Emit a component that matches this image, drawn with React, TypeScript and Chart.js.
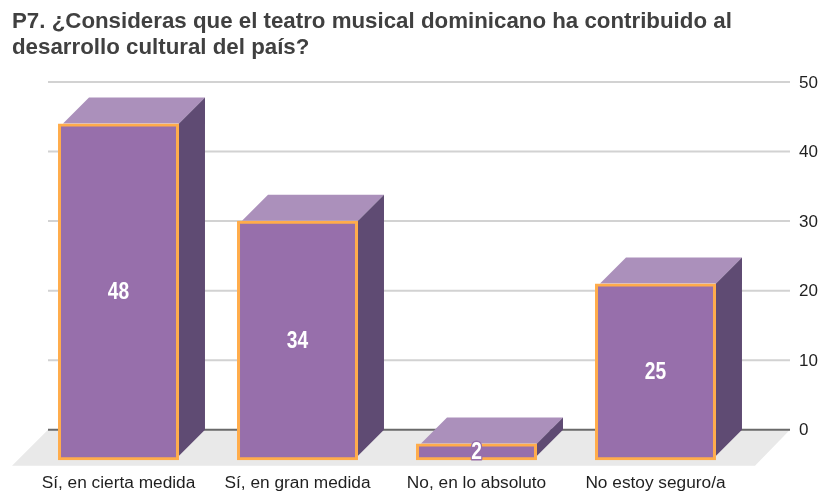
import React, { useEffect, useRef } from "react";
import { Chart, registerables } from "chart.js";

Chart.register(...registerables);

const categories = ["Sí, en cierta medida", "Sí, en gran medida", "No, en lo absoluto", "No estoy seguro/a"];
const values = [48, 34, 2, 25];
const titleLines = [
  "P7. ¿Consideras que el teatro musical dominicano ha contribuido al",
  "desarrollo cultural del país?",
];

const FRONT = "#976FAB";
const BORDER = "#FFAC4B";
const TOP = "#AB90BB";
const SIDE = "#5F4B73";
const FLOOR = "#E9E9E9";
const GRID = "#D2D2D2";
const ZERO = "#6A6A6A";
const TEXT = "#1F1F1F";
const TITLE = "#404040";

// projection of the pseudo-3D box
const DROP = 29;
const DEPTH = 26;
const INFLATE = 1.5;
const GRID_LEFT = 48;
const GRID_RIGHT = 790;
const FLOOR_DEPTH = 36;

const poly = (ctx: CanvasRenderingContext2D, pts: number[][], fill: string) => {
  ctx.beginPath();
  pts.forEach(([x, y], i) => (i ? ctx.lineTo(x, y) : ctx.moveTo(x, y)));
  ctx.closePath();
  ctx.fillStyle = fill;
  ctx.fill();
};

const box3d = {
  id: "box3d",
  afterLayout(chart: any) {
    chart.titleBlock.left = 12;
  },
  beforeDatasetsDraw(chart: any) {
    const { ctx, scales } = chart;
    const yS = scales.y;
    const base = yS.getPixelForValue(0);
    const { left, right } = chart.chartArea;
    ctx.save();
    yS.ticks.forEach((_t: any, i: number) => {
      const py = yS.getPixelForTick(i);
      if (Math.abs(py - base) < 1) return;
      ctx.strokeStyle = GRID;
      ctx.lineWidth = 2;
      ctx.beginPath();
      ctx.moveTo(GRID_LEFT, py);
      ctx.lineTo(GRID_RIGHT, py);
      ctx.stroke();
    });
    poly(
      ctx,
      [
        [left - 17, base + FLOOR_DEPTH],
        [GRID_LEFT, base],
        [GRID_RIGHT, base],
        [right + 10, base + FLOOR_DEPTH],
      ],
      FLOOR
    );
    ctx.strokeStyle = ZERO;
    ctx.lineWidth = 2;
    ctx.beginPath();
    ctx.moveTo(GRID_LEFT, base);
    ctx.lineTo(GRID_RIGHT, base);
    ctx.stroke();
    ctx.restore();
  },
  beforeDatasetDraw(chart: any, args: any) {
    const { ctx } = chart;
    const meta = chart.getDatasetMeta(args.index);
    ctx.save();
    meta.data.forEach((bar: any) => {
      const p = bar.getProps(["x", "y", "base", "width"], true);
      const l = p.x - p.width / 2 + 3.5;
      const r = p.x + p.width / 2 + INFLATE;
      const frontTop = p.y + DROP - INFLATE;
      const backTop = frontTop - DEPTH;
      poly(ctx, [[l, frontTop], [r, frontTop], [r + DEPTH, backTop], [l + DEPTH, backTop]], TOP);
      poly(
        ctx,
        [
          [r, frontTop],
          [r + DEPTH, backTop],
          [r + DEPTH, p.base],
          [r, p.base + DEPTH],
        ],
        SIDE
      );
    });
    ctx.restore();
    ctx.save();
    ctx.translate(0, DROP);
  },
  afterDatasetDraw(chart: any) {
    chart.ctx.restore();
  },
  afterDatasetsDraw(chart: any) {
    const { ctx } = chart;
    const meta = chart.getDatasetMeta(0);
    ctx.save();
    ctx.font = 'bold 24px "Liberation Sans"';
    ctx.textAlign = "center";
    ctx.textBaseline = "middle";
    ctx.lineJoin = "round";
    meta.data.forEach((bar: any, i: number) => {
      const p = bar.getProps(["x", "y", "base"], true);
      const cy = (p.y + p.base) / 2 + DROP + 1;
      ctx.save();
      ctx.translate(p.x, cy);
      ctx.scale(0.8, 1);
      ctx.lineWidth = 3;
      ctx.strokeStyle = FRONT;
      ctx.strokeText(String(values[i]), 0, 0);
      ctx.fillStyle = "#FFFFFF";
      ctx.fillText(String(values[i]), 0, 0);
      ctx.restore();
    });
    ctx.restore();
  },
};

export default function App() {
  const ref = useRef<HTMLCanvasElement>(null);
  useEffect(() => {
    document.body.style.margin = "0";
    const chart = new Chart(ref.current!, {
      type: "bar",
      data: {
        labels: categories,
        datasets: [
          {
            data: values,
            backgroundColor: FRONT,
            borderColor: BORDER,
            borderWidth: 3,
            borderSkipped: false,
            inflateAmount: INFLATE,
            barPercentage: 0.659,
            categoryPercentage: 1,
            clip: false,
          } as any,
        ],
      },
      options: {
        animation: false,
        responsive: false,
        layout: { padding: { left: 29, right: 0, top: 0, bottom: -1.2 }, autoPadding: false },
        plugins: {
          legend: { display: false },
          tooltip: { enabled: false },
          title: {
            display: true,
            text: titleLines,
            align: "start",
            color: TITLE,
            font: { family: '"Liberation Sans"', size: 22.3, weight: "bold", lineHeight: 1.166 },
            padding: { top: 9, bottom: 21 },
          },
        },
        scales: {
          x: {
            grid: { display: false },
            border: { display: false },
            afterFit: (s: any) => {
              s.height = 62;
            },
            ticks: {
              color: TEXT,
              padding: 34.8,
              maxRotation: 0,
              autoSkip: false,
              font: { family: '"Liberation Sans"', size: 17.3 },
            },
          },
          y: {
            position: "right",
            min: 0,
            max: 50,
            afterFit: (s: any) => {
              s.width = 77;
            },
            grid: { display: false, drawTicks: false },
            border: { display: false },
            ticks: {
              stepSize: 10,
              color: TEXT,
              padding: 54,
              labelOffset: 1,
              font: { family: '"Liberation Sans"', size: 17 },
            },
          },
        },
      },
      plugins: [box3d],
    } as any);
    return () => chart.destroy();
  }, []);
  return <canvas ref={ref} width={822} height={494} style={{ display: "block" }} />;
}
